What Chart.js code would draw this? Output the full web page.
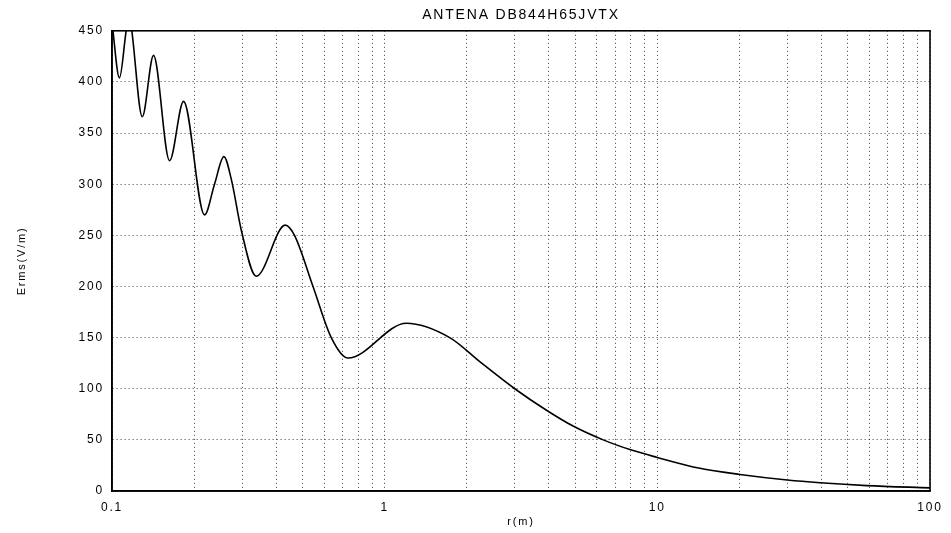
<!DOCTYPE html>
<html>
<head>
<meta charset="utf-8">
<title>ANTENA DB844H65JVTX</title>
<script src="https://cdn.jsdelivr.net/npm/chart.js@4"></script>
<style>
  html, body { margin: 0; padding: 0; background: #fff; }
  #wrap { width: 951px; height: 533px; }
</style>
</head>
<body>
<div id="wrap"><canvas id="ermsChart"></canvas></div>
<script>
// distancia a la antena (m)
const distR = [0.1, 0.1065, 0.1127, 0.1155, 0.1182, 0.1291, 0.142, 0.1626, 0.183,
    0.2185, 0.2377, 0.2572, 0.2738, 0.298, 0.338, 0.432, 0.467,
    0.546, 0.637, 0.7335, 1.201, 1.732, 2.232, 3.0, 3.922, 4.909,
    6.33, 8.04, 9.93, 14.32, 20.09, 29.94, 39.5, 58.6, 100];

// campo eléctrico Erms (V/m)
const ermsValues = [458, 404, 450, 466, 450, 366, 426, 323, 381,
    270, 300, 327, 305, 255, 210, 260, 250,
    200, 150, 130, 164, 150, 126.5, 100, 79, 63.5,
    50, 40, 33, 22.2, 16.2, 10.8, 8.1, 5.3, 3.1];

// ticks de los ejes
const xDecades = [0.1, 1, 10, 100];
const xTickLabels = ["0.1", "1", "10", "100"];
const yTicks = [0, 50, 100, 150, 200, 250, 300, 350, 400, 450];

// rejilla: 1..9 en cada década
const xGrid = [];
xDecades.slice(0, -1).forEach(d => {
    for (let k = 1; k <= 9; k++) xGrid.push(+(d * k).toPrecision(3));
});
xGrid.push(100);

const FONT = "'Liberation Sans', Arial, sans-serif";

// espaciado de letras para todos los textos
const spacingPlugin = {
    id: "spacing",
    beforeDraw(chart) {
        chart.ctx.letterSpacing = "1.8px";
    }
};

// marco negro alrededor del área de la gráfica
const framePlugin = {
    id: "frame",
    afterDraw(chart) {
        const { ctx, chartArea: a } = chart;
        ctx.save();
        ctx.setLineDash([]);
        ctx.strokeStyle = "#000";
        ctx.lineWidth = 1.6;
        ctx.strokeRect(a.left, a.top, a.right - a.left, a.bottom - a.top);
        ctx.restore();
    }
};

const gridStyle = {
    color: "rgba(0,0,0,0.75)",
    lineWidth: 1,
    drawTicks: false
};

// borde del eje; dash se aplica a las líneas de la rejilla
const axisBorder = { display: true, color: "#000", width: 1.6, dash: [1, 3] };

new Chart(document.getElementById("ermsChart"), {
    type: "line",
    data: {
        datasets: [{
            data: distR.map((r, i) => ({ x: r, y: ermsValues[i] })),
            borderColor: "#000",
            borderWidth: 1.6,
            pointRadius: 0,
            fill: false,
            cubicInterpolationMode: "monotone"
        }]
    },
    options: {
        responsive: true,
        maintainAspectRatio: false,
        animation: false,
        layout: { padding: { top: 0, right: 21, bottom: 0, left: 0 } },
        plugins: {
            legend: { display: false },
            tooltip: { enabled: false },
            title: {
                display: true,
                text: "ANTENA DB844H65JVTX",
                color: "#000",
                fullSize: false,
                font: { family: FONT, size: 14, weight: "normal" },
                padding: { top: 7, bottom: 7 }
            }
        },
        scales: {
            x: {
                type: "logarithmic",
                min: 0.1,
                max: 100,
                afterBuildTicks: scale => {
                    scale.ticks = xGrid.map(v => ({ value: v }));
                },
                afterFit: scale => { scale.height = 42; },
                ticks: {
                    autoSkip: false,
                    maxRotation: 0,
                    color: "#000",
                    padding: 9,
                    font: { family: FONT, size: 12 },
                    callback: value => {
                        const i = xDecades.indexOf(value);
                        return i >= 0 ? xTickLabels[i] : "";
                    }
                },
                grid: gridStyle,
                border: axisBorder,
                title: {
                    display: true,
                    text: "r(m)",
                    color: "#000",
                    font: { family: FONT, size: 11 },
                    padding: { top: 4, bottom: 4 }
                }
            },
            y: {
                min: 0,
                max: 450,
                afterBuildTicks: scale => {
                    scale.ticks = yTicks.map(v => ({ value: v }));
                },
                afterFit: scale => { scale.width = 112; },
                ticks: {
                    color: "#000",
                    padding: 8,
                    font: { family: FONT, size: 12 }
                },
                grid: gridStyle,
                border: axisBorder,
                title: {
                    display: true,
                    text: "Erms(V/m)",
                    color: "#000",
                    font: { family: FONT, size: 11 },
                    padding: { top: 15, bottom: 15 }
                }
            }
        }
    },
    plugins: [spacingPlugin, framePlugin]
});
</script>
</body>
</html>
